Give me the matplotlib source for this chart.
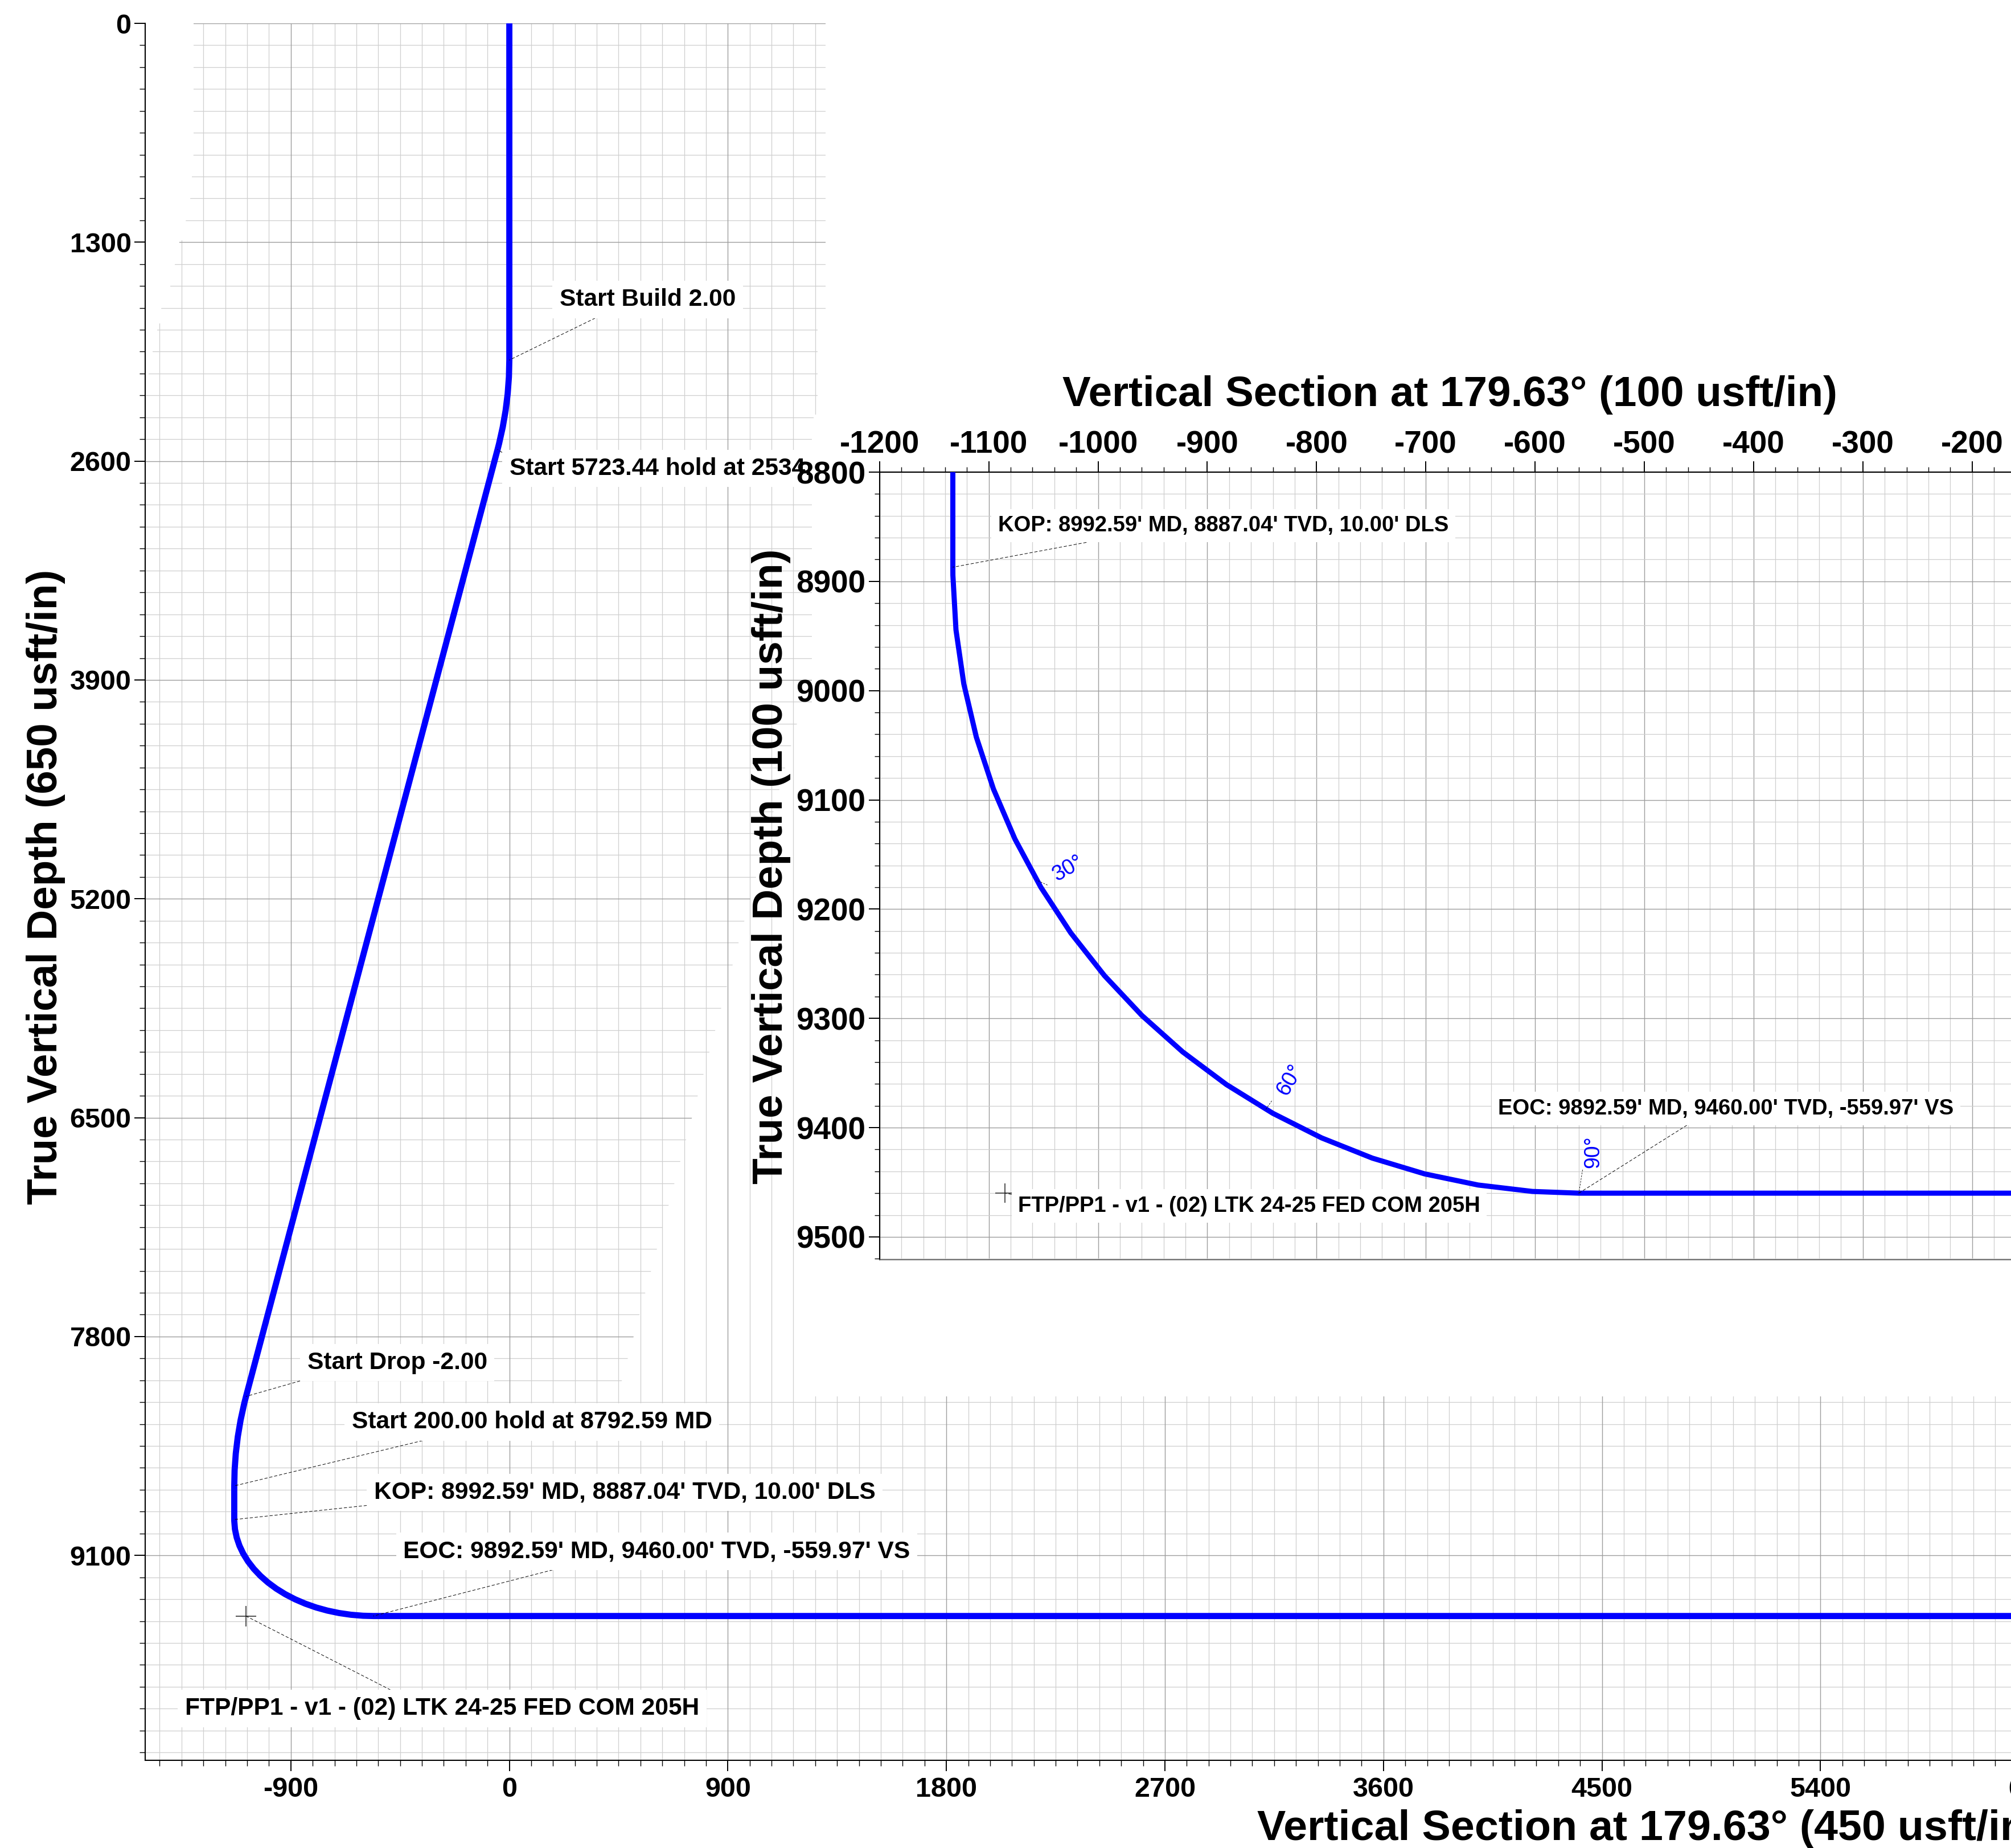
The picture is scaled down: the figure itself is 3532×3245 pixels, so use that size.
import matplotlib
matplotlib.use("Agg")
import numpy as np
import matplotlib.pyplot as plt
from matplotlib.collections import LineCollection
from matplotlib.patches import Polygon
from matplotlib.ticker import MultipleLocator

# ------------------------------------------------------------------
# Well plan: survey stations (vertical section at 179.63 deg)
# ------------------------------------------------------------------
TVD = [0.00, 2000.00, 2099.98, 2199.84, 2299.45, 2398.70, 2497.46, 2531.36,
       8155.68, 8196.96, 8295.77, 8395.05, 8494.69, 8594.56, 8687.04,
       8887.04, 8894.45, 8944.35, 8993.82, 9042.48, 9089.95, 9135.88,
       9179.91, 9221.72, 9260.98, 9297.39, 9330.68, 9360.59, 9386.91,
       9409.41, 9427.93, 9442.35, 9452.54, 9458.42, 9460.00, 9460.00]
VS = [0.00, 0.00, -1.70, -6.81, -15.31, -27.20, -42.46, -48.51,
      -1084.42, -1091.73, -1106.73, -1118.37, -1126.62, -1131.48, -1132.93,
      -1132.93, -1132.88, -1130.06, -1122.89, -1111.44, -1095.80, -1076.08,
      -1052.42, -1025.02, -994.08, -959.84, -922.56, -882.51, -840.01,
      -795.38, -748.95, -701.10, -652.16, -602.52, -559.97, 10312.00]

# target
FTP_VS = [-1085.0]
FTP_TVD = [9460.0]

# plan annotations on the overview section
MAIN_NOTES = ["Start Build 2.00",
              "Start 5723.44 hold at 2534.58 MD",
              "Start Drop -2.00",
              "Start 200.00 hold at 8792.59 MD",
              "KOP: 8992.59' MD, 8887.04' TVD, 10.00' DLS",
              "EOC: 9892.59' MD, 9460.00' TVD, -559.97' VS",
              "FTP/PP1 - v1 - (02) LTK 24-25 FED COM 205H"]
MAIN_NOTE_VS = [0.00, -48.51, -1084.42, -1132.93, -1132.93, -559.97, -1085.0]
MAIN_NOTE_TVD = [2000.00, 2531.36, 8155.68, 8687.04, 8887.04, 9460.00, 9460.0]

# annotations on the curve detail
DETAIL_NOTES = ["KOP: 8992.59' MD, 8887.04' TVD, 10.00' DLS",
                "EOC: 9892.59' MD, 9460.00' TVD, -559.97' VS",
                "FTP/PP1 - v1 - (02) LTK 24-25 FED COM 205H"]
DETAIL_NOTE_VS = [-1132.93, -559.97, -1085.0]
DETAIL_NOTE_TVD = [8887.04, 9460.00, 9460.0]

# inclination markers along the curve
INC_DEG = [30, 60, 90]
INC_VS = [-1056.17, -846.45, -559.97]
INC_TVD = [9173.52, 9383.24, 9460.00]

# ------------------------------------------------------------------
# Page geometry (pixels, origin top-left)
# ------------------------------------------------------------------
W, H, DPI = 3532, 3245, 100
BLUE = "#0000ff"
GRID_MAJOR = "#9d9d9d"
GRID_MINOR = "#cfcfcf"

plt.rcParams["font.family"] = ["Liberation Sans", "DejaVu Sans"]
plt.rcParams["font.weight"] = "bold"
plt.rcParams["axes.unicode_minus"] = False


def fx(x):
    return x / W


def fy(y):
    return 1.0 - y / H


fig = plt.figure(figsize=(W / DPI, H / DPI), dpi=DPI, facecolor="white")

# ---------------- overview section ----------------
M_LEFT, M_TOP, M_BOTTOM = 254.9, 41.0, 3091.3
M_XLIM = (-1500, 6500)
M_YLIM = (10318, 0)
M_SX = 0.42644
m_right = M_LEFT + (M_XLIM[1] - M_XLIM[0]) * M_SX
ax = fig.add_axes([fx(M_LEFT), fy(M_BOTTOM), (m_right - M_LEFT) / W,
                   (M_BOTTOM - M_TOP) / H], zorder=0)
ax.set_facecolor("white")


def clip_poly(pts):
    return Polygon([(fx(x), fy(y)) for x, y in pts], closed=True,
                   transform=fig.transFigure)


# visible areas of the overview grid
H_CLIP = [(340, 30), (1450, 30), (1450, 715), (1429, 715), (1429, 1257),
          (1402, 1262), (1088, 2440), (1088, 2447), (W + 20, 2447),
          (W + 20, 3100), (250, 3100), (250, 700), (255, 696), (261, 657),
          (268, 618), (276, 580), (283, 542), (299, 503), (307, 465),
          (315, 425), (326, 389), (334, 350), (337, 311), (340, 270)]
V_CLIP = [(338, 30), (1452, 30), (1452, 728), (1414, 728), (1414, 2207),
          (1452, 2207), (1452, 2452), (W + 20, 2452), (W + 20, 3100),
          (250, 3100), (250, 568), (300, 568), (300, 422), (338, 422)]


def add_grid(axis, values, orient, color, lw, clip):
    if orient == "v":
        segs = [[(v, 0), (v, 1)] for v in values]
        tr = axis.get_xaxis_transform()
    else:
        segs = [[(0, v), (1, v)] for v in values]
        tr = axis.get_yaxis_transform()
    lc = LineCollection(segs, colors=color, linewidths=lw, transform=tr,
                        zorder=0.5)
    axis.add_collection(lc, autolim=False)
    lc.set_clip_path(clip_poly(clip))


vx = np.arange(-1440, 6500, 90)
hy = np.arange(0, 10318, 130)
add_grid(ax, [v for v in vx if v % 900 != 0], "v", GRID_MINOR, 0.9, V_CLIP)
add_grid(ax, [v for v in hy if v % 1300 != 0], "h", GRID_MINOR, 0.9, H_CLIP)
add_grid(ax, [v for v in vx if v % 900 == 0], "v", GRID_MAJOR, 1.0, V_CLIP)
add_grid(ax, [v for v in hy if v % 1300 == 0], "h", GRID_MAJOR, 1.0, H_CLIP)

ax.plot(VS, TVD, color=BLUE, lw=7.8, solid_capstyle="round",
        solid_joinstyle="round", zorder=3)
ax.plot(FTP_VS, FTP_TVD, marker="+", ms=26, mew=1.2, color="#333333",
        ls="none", zorder=3)

ax.set_xlim(*M_XLIM)
ax.set_ylim(*M_YLIM)
ax.xaxis.set_major_locator(MultipleLocator(900))
ax.xaxis.set_minor_locator(MultipleLocator(90))
ax.yaxis.set_major_locator(MultipleLocator(1300))
ax.yaxis.set_minor_locator(MultipleLocator(130))
ax.tick_params(which="both", direction="out", top=False, right=False,
               colors="black")
ax.tick_params(which="major", length=14, width=1.4, labelsize=35)
ax.tick_params(which="minor", length=7, width=1.0)
ax.tick_params(axis="y", which="major", pad=3.5)
ax.tick_params(axis="x", which="major", pad=7)
for s in ("top", "right"):
    ax.spines[s].set_visible(False)
for s in ("left", "bottom"):
    ax.spines[s].set_linewidth(1.5)

# label placement: (text left, baseline, leader attachment on the box)
MAIN_NOTE_POS = [(983, 537, (0.285, 0.0)),
                 (894.7, 833.5, (0.0, 1.0)),
                 (539.5, 2403.7, (0.094, 0.0)),
                 (617.6, 2508.0, (0.28, 0.0)),
                 (656.7, 2631.5, (0.018, 0.0)),
                 (708.3, 2735.0, (0.35, 0.0)),
                 (324.9, 3011.0, (0.427, 1.0))]


def note(axis, text, vs, tvd, pos, size):
    x, yb, rel = pos
    axis.annotate(text, xy=(vs, tvd), xycoords="data",
                  xytext=(x, H - yb), textcoords="figure pixels",
                  ha="left", va="baseline", fontsize=size, fontweight="bold",
                  color="black", zorder=4,
                  bbox=dict(boxstyle="square,pad=0.3", fc="white", ec="none"),
                  arrowprops=dict(arrowstyle="-", color="black", lw=0.7,
                                  linestyle=(0, (5, 4)), shrinkA=0, shrinkB=0,
                                  relpos=rel))


for t, v, d, p in zip(MAIN_NOTES, MAIN_NOTE_VS, MAIN_NOTE_TVD, MAIN_NOTE_POS):
    note(ax, t, v, d, p, 30.6)

# white block behind the curve detail
fig.add_artist(Polygon([(fx(1436), fy(560)), (fx(W + 20), fy(560)),
                        (fx(W + 20), fy(2452)), (fx(1426), fy(2452)),
                        (fx(1426), fy(740)), (fx(1436), fy(740))],
                       closed=True, transform=fig.transFigure,
                       facecolor="white", edgecolor="none", zorder=0.5))

# ---------------- curve detail ----------------
I_LEFT, I_TOP = 1544.8, 829.0
I_XLIM = (-1200, -150)
I_YLIM = (9521, 8800)
I_SX, I_SY = 1.9189, 1.9184
i_right = I_LEFT + (I_XLIM[1] - I_XLIM[0]) * I_SX
i_bottom = I_TOP + (I_YLIM[0] - I_YLIM[1]) * I_SY
ax2 = fig.add_axes([fx(I_LEFT), fy(i_bottom), (i_right - I_LEFT) / W,
                    (i_bottom - I_TOP) / H], zorder=1)
ax2.set_facecolor("white")
ax2.plot(VS, TVD, color=BLUE, lw=6.5, solid_capstyle="round",
         solid_joinstyle="round", zorder=3)
ax2.plot(FTP_VS, FTP_TVD, marker="+", ms=24, mew=1.2, color="#333333",
         ls="none", zorder=3)
ax2.set_xlim(*I_XLIM)
ax2.set_ylim(*I_YLIM)
ax2.xaxis.tick_top()
ax2.xaxis.set_major_locator(MultipleLocator(100))
ax2.xaxis.set_minor_locator(MultipleLocator(20))
ax2.yaxis.set_major_locator(MultipleLocator(100))
ax2.yaxis.set_minor_locator(MultipleLocator(20))
ax2.grid(which="minor", color=GRID_MINOR, lw=0.9, zorder=0.5)
ax2.grid(which="major", color=GRID_MAJOR, lw=1.0, zorder=0.6)
ax2.set_axisbelow(True)
ax2.tick_params(which="both", direction="out", bottom=False, right=False,
                colors="black")
ax2.tick_params(which="major", length=13.5, width=1.4, labelsize=39.5)
ax2.tick_params(which="minor", length=6.5, width=1.0)
ax2.tick_params(axis="x", which="major", pad=2)
ax2.tick_params(axis="y", which="major", pad=4)
ax2.spines["right"].set_visible(False)
ax2.spines["left"].set_linewidth(1.5)
ax2.spines["top"].set_linewidth(1.5)
ax2.spines["bottom"].set_linewidth(1.2)
ax2.spines["bottom"].set_color("#555555")

DETAIL_NOTE_POS = [(1752.7, 933.0, (0.274, 0.0)),
                   (2631.0, 1956.6, (0.437, 0.0)),
                   (1788.0, 2127.5, (0.0, 1.0))]
for t, v, d, p in zip(DETAIL_NOTES, DETAIL_NOTE_VS, DETAIL_NOTE_TVD,
                      DETAIL_NOTE_POS):
    note(ax2, t, v, d, p, 27.5)

INC_OFFSET = [(55, 20), (42, 51), (25, 72)]
for inc, v, d, off in zip(INC_DEG, INC_VS, INC_TVD, INC_OFFSET):
    ax2.annotate(f"{inc}°", xy=(v, d), xycoords="data", xytext=off,
                 textcoords="offset pixels", rotation=inc,
                 rotation_mode="anchor", ha="center", va="center",
                 color=BLUE, fontsize=27, fontweight="normal", zorder=5,
                 arrowprops=dict(arrowstyle="-", color="black", lw=0.6,
                                 linestyle=(0, (3, 3)), shrinkA=0, shrinkB=0,
                                 relpos=(0.0, 0.0)))

# ---------------- axis titles ----------------
fig.text(fx(100.5), fy(1557), "True Vertical Depth (650 usft/in)",
         rotation=90, rotation_mode="anchor", ha="center", va="baseline",
         fontsize=53.7, fontweight="bold", zorder=3)
fig.text(fx(1373.7), fy(1521), "True Vertical Depth (100 usft/in)",
         rotation=90, rotation_mode="anchor", ha="center", va="baseline",
         fontsize=53.7, fontweight="bold", zorder=3)
fig.text(fx(2208), fy(3231), "Vertical Section at 179.63° (450 usft/in)",
         ha="left", va="baseline", fontsize=54.3, fontweight="bold", zorder=3)
fig.text(fx(1866.5), fy(713.5), "Vertical Section at 179.63° (100 usft/in)",
         ha="left", va="baseline", fontsize=53.7, fontweight="bold", zorder=3)

fig.savefig("out.png", dpi=DPI, facecolor="white")
